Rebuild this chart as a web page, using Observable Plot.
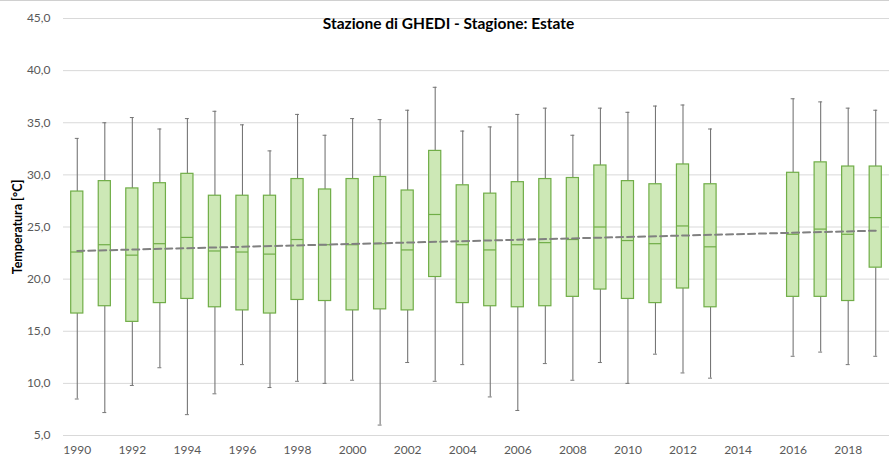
<!DOCTYPE html>
<html>
<head>
<meta charset="utf-8">
<script src="https://cdn.jsdelivr.net/npm/d3@7"></script>
<script src="https://cdn.jsdelivr.net/npm/@observablehq/plot@0.6"></script>
<style>
  html, body { margin: 0; padding: 0; background: #fff; }
  #chart { position: relative; width: 889px; height: 461px; border-top: 1px solid #d0d0d0; box-sizing: border-box; }
</style>
</head>
<body>
<div id="chart"></div>
<script>
// ---- data ----
const years    = [1990,1991,1992,1993,1994,1995,1996,1997,1998,1999,2000,2001,2002,2003,2004,2005,2006,2007,2008,2009,2010,2011,2012,2013,2014,2015,2016,2017,2018,2019];
const boxYears = [1990,1991,1992,1993,1994,1995,1996,1997,1998,1999,2000,2001,2002,2003,2004,2005,2006,2007,2008,2009,2010,2011,2012,2013,2016,2017,2018,2019];
const maxVals  = [33.5,35.0,35.5,34.4,35.4,36.1,34.8,32.3,35.8,33.8,35.4,35.3,36.2,38.4,34.2,34.6,35.8,36.4,33.8,36.4,36.0,36.6,36.7,34.4,37.3,37.0,36.4,36.2];
const q3Vals   = [28.4,29.4,28.7,29.2,30.1,28.0,28.0,28.0,29.6,28.6,29.6,29.8,28.5,32.3,29.0,28.2,29.3,29.6,29.7,30.9,29.4,29.1,31.0,29.1,30.2,31.2,30.8,30.8];
const medVals  = [22.6,23.3,22.3,23.4,24.0,22.7,22.6,22.4,23.8,23.3,23.3,23.4,22.8,26.2,23.3,22.8,23.3,23.5,23.8,25.0,23.7,23.4,25.1,23.1,24.3,24.8,24.3,25.9];
const q1Vals   = [16.7,17.4,15.9,17.7,18.1,17.3,17.0,16.7,18.0,17.9,17.0,17.1,17.0,20.2,17.7,17.4,17.3,17.4,18.3,19.0,18.1,17.7,19.1,17.3,18.3,18.3,17.9,21.1];
const minVals  = [8.5,7.2,9.8,11.5,7.0,9.0,11.8,9.6,10.2,10.0,10.3,6.0,12.0,10.2,11.8,8.7,7.4,11.9,10.3,12.0,10.0,12.8,11.0,10.5,12.6,13.0,11.8,12.6];
const xTicks   = [1990,1992,1994,1996,1998,2000,2002,2004,2006,2008,2010,2012,2014,2016,2018];
const yTicks   = [5,10,15,20,25,30,35,40,45];
const trendYears = [1990, 2019];
const trendVals  = [22.7, 24.65];
const titleText = "Stazione di GHEDI - Stagione: Estate";
const yLabelText = "Temperatura [°C]";

const boxes = boxYears.map((y, i) => ({year: y, min: minVals[i], q1: q1Vals[i], med: medVals[i], q3: q3Vals[i], max: maxVals[i]}));
const trend = trendYears.map((y, i) => ({year: y, value: trendVals[i]}));

const FONT = "Lato, 'Open Sans', sans-serif";
const fmt = d => d.toFixed(1).replace(".", ",");
const BOX_INSET = 7.7;
const CAP_INSET = 11.8;

const chart = Plot.plot({
  width: 889,
  height: 460,
  marginTop: 17,
  marginBottom: 26,
  marginLeft: 63,
  marginRight: 0,
  style: {fontFamily: FONT, fontSize: "12px", color: "#595959", background: "white"},
  x: {type: "band", domain: years, padding: 0, round: false, label: null},
  y: {domain: [5, 45], label: null},
  marks: [
    Plot.gridY(yTicks, {stroke: "#d9d9d9", strokeOpacity: 1, strokeWidth: 1}),
    Plot.axisY(yTicks, {tickSize: 0, tickPadding: 13, tickFormat: fmt, fill: "#595959", fontSize: 12}),
    Plot.axisX(xTicks, {tickSize: 0, tickPadding: 10, tickFormat: d => String(d), fill: "#595959", fontSize: 12}),
    // whiskers
    Plot.ruleX(boxes, {x: "year", y1: "q3", y2: "max", stroke: "#767676", strokeWidth: 1.1}),
    Plot.ruleX(boxes, {x: "year", y1: "min", y2: "q1", stroke: "#767676", strokeWidth: 1.1}),
    Plot.tickY(boxes, {x: "year", y: "max", stroke: "#767676", insetLeft: CAP_INSET, insetRight: CAP_INSET}),
    Plot.tickY(boxes, {x: "year", y: "min", stroke: "#767676", insetLeft: CAP_INSET, insetRight: CAP_INSET}),
    // boxes
    Plot.barY(boxes, {x: "year", y1: "q1", y2: "q3", fill: "#cde8b6", stroke: "#70ad47", strokeWidth: 1.2, insetLeft: BOX_INSET, insetRight: BOX_INSET}),
    Plot.tickY(boxes, {x: "year", y: "med", stroke: "#70ad47", strokeWidth: 1.2, insetLeft: BOX_INSET, insetRight: BOX_INSET}),
    // trend
    Plot.line(trend, {x: "year", y: "value", stroke: "#808080", strokeWidth: 2, strokeDasharray: "7,4"}),
    // title and y label
    Plot.text([titleText], {frameAnchor: "top", dx: -28, dy: 6, text: d => d, fontWeight: "bold", fontSize: 15.5, fill: "#000", lineAnchor: "middle"}),
    Plot.text([yLabelText], {frameAnchor: "left", textAnchor: "middle", lineAnchor: "middle", dx: -46, rotate: -90, text: d => d, fontWeight: "bold", fontSize: 12.5, fill: "#000"})
  ]
});
document.getElementById("chart").appendChild(chart);
</script>
</body>
</html>
